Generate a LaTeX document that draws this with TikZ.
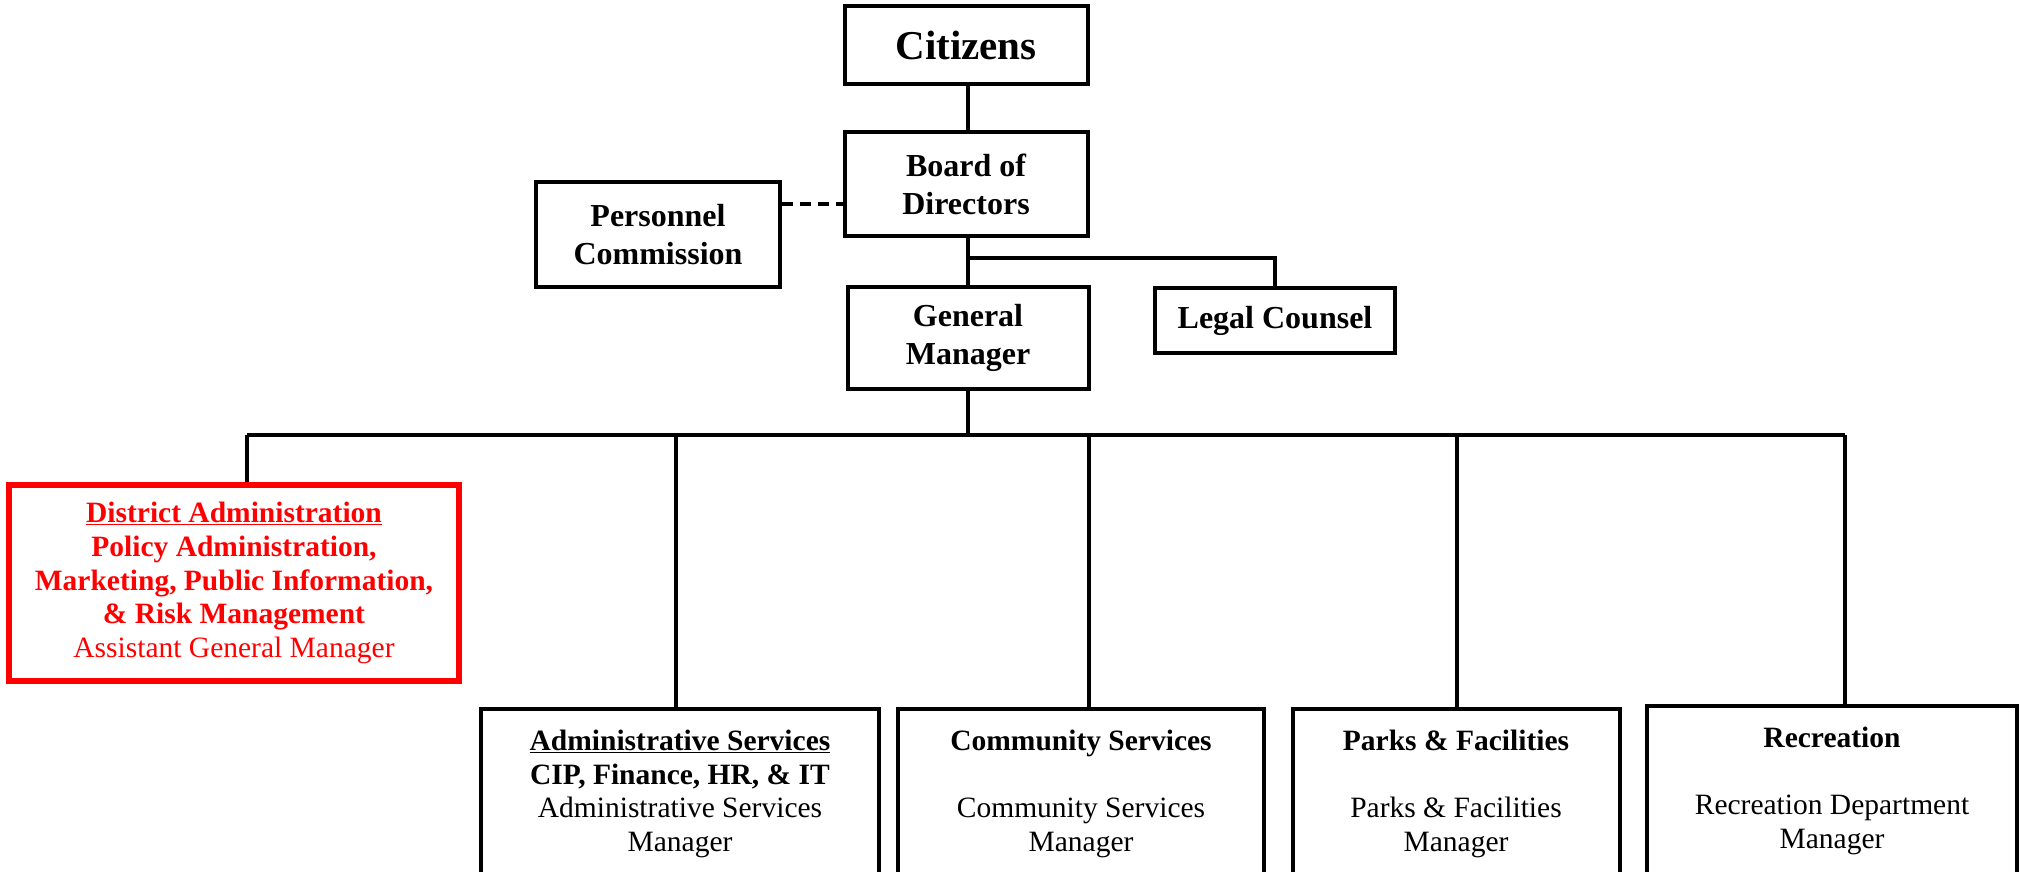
\documentclass[tikz,border=0pt]{standalone}
\usepackage{fontspec}
\setmainfont{Liberation Serif}
\definecolor{distred}{RGB}{255,0,0}
\begin{document}
\begin{tikzpicture}[x=1pt,y=-1pt,
    box/.style={draw, line width=4pt, rectangle, align=center, inner sep=0pt,
      font=\bfseries\fontsize{32}{38}\selectfont},
    unit/.style={draw, line width=4pt, rectangle, align=center, inner sep=0pt,
      minimum height=170pt, font=\fontsize{29.5}{33.6}\selectfont},
    link/.style={line width=3.5pt}]
    \useasboundingbox (0,0) rectangle (2026,872);
    \clip (0,0) rectangle (2026,872);
    % top of the chart
    \node [box, minimum width=243pt, minimum height=78pt,
      font=\bfseries\fontsize{41}{47}\selectfont] (citizens) at (966,45) {Citizens};
    \node [box, minimum width=243pt, minimum height=104pt] (board) at (966,184) {Board of\\Directors};
    \node [box, minimum width=244pt, minimum height=105pt] (personnel) at (658,234.5) {Personnel\\Commission};
    \node [box, minimum width=241pt, minimum height=102pt] (gm) at (968,338) {General\\Manager};
    \node [box, minimum width=240pt, minimum height=65pt] (legal) at (1275,320.5) {Legal Counsel};
    % departments
    \node [unit, draw=distred, text=distred, line width=5.5pt, minimum width=450pt,
      minimum height=196pt, font=\bfseries\fontsize{29.5}{33.6}\selectfont] (district) at (234,583)
      {\underline{District Administration}\\Policy Administration,\\Marketing, Public Information,\\\& Risk Management\\{\mdseries Assistant General Manager}};
    \node [unit, minimum width=398pt] (admin) at (680,794)
      {\textbf{\underline{Administrative Services}}\\\textbf{CIP, Finance, HR, \& IT}\\Administrative Services\\Manager};
    \node [unit, minimum width=366pt] (community) at (1081,794)
      {\textbf{Community Services}\\[33.6pt]Community Services\\Manager};
    \node [unit, minimum width=327pt] (parks) at (1456,794)
      {\textbf{Parks \& Facilities}\\[33.6pt]Parks \& Facilities\\Manager};
    \node [unit, minimum width=370pt] (recreation) at (1832,791)
      {\textbf{Recreation}\\[33.6pt]Recreation Department\\Manager};
    % connectors
    \coordinate (dash) at (0,204);
    \coordinate (branch) at (968,258);
    \coordinate (bus) at (968,435);
    \coordinate (d1) at (247,435);
    \coordinate (d2) at (676,435);
    \coordinate (d3) at (1089,435);
    \coordinate (d4) at (1457,435);
    \coordinate (d5) at (1845,435);
    \draw [link] (citizens.south -| branch) -- (board.north -| branch);
    \draw [link] (board.south -| branch) -- (gm.north -| branch);
    \draw [link, dash pattern=on 11pt off 7pt] (personnel.east |- dash) -- (board.west |- dash);
    \draw [link] (branch) -| (legal.north);
    \draw [link] (gm.south -| bus) -- (bus);
    \draw [link] (d1) -- (d5);
    \draw [link] (d1) -- (district.north -| d1);
    \draw [link] (d2) -- (admin.north -| d2);
    \draw [link] (d3) -- (community.north -| d3);
    \draw [link] (d4) -- (parks.north -| d4);
    \draw [link] (d5) -- (recreation.north -| d5);
\end{tikzpicture}
\end{document}
